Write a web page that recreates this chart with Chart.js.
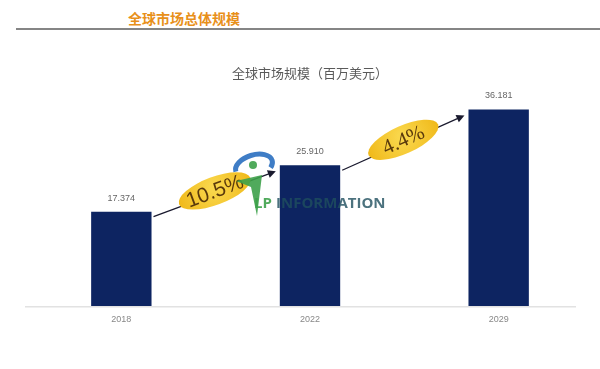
<!DOCTYPE html>
<html>
<head>
<meta charset="utf-8">
<script src="https://cdn.jsdelivr.net/npm/chart.js@4.4.0/dist/chart.umd.min.js"></script>
<style>
    html, body { margin: 0; padding: 0; background: #fff; }
    #wrap { position: relative; width: 600px; height: 369px; overflow: hidden; }
    #header {
        position: absolute; left: 0; top: 8px; width: 368px; text-align: center;
        font: bold 14px "Noto Sans CJK SC", sans-serif; color: #e8901a;
    }
    #rule { position: absolute; left: 16px; right: 0; top: 28px; height: 2px; background: #858585; }
    #chart { position: absolute; left: 0; top: 0; }
</style>
</head>
<body>
<div id="wrap">
    <div id="header">全球市场总体规模</div>
    <div id="rule"></div>
    <canvas id="chart" width="600" height="369"></canvas>
</div>
<script>
// DATA
const years = ['2018', '2022', '2029'];
const marketSize = [17374, 25910, 36181];
const growthRates = ['10.5%', '4.4%'];
const chartTitle = '全球市场规模（百万美元）';

function fmt(v)
{
    return String(v).replace(/\B(?=(\d{3})+(?!\d))/g, '.');
}

// labels, arrows, cagr bubbles, watermark
const extras = {
    id: 'extras',
    afterDatasetsDraw(chart)
    {
        let ctx = chart.ctx;
        let bars = chart.getDatasetMeta(0).data;
        let y0 = chart.scales.y.getPixelForValue(0);

        // baseline
        ctx.save();
        ctx.strokeStyle = '#e2e2e2';
        ctx.lineWidth = 1.5;
        ctx.beginPath();
        ctx.moveTo(25, y0 + 0.5);
        ctx.lineTo(576, y0 + 0.5);
        ctx.stroke();

        // value labels
        ctx.fillStyle = '#666';
        ctx.font = '9px "Liberation Sans", sans-serif';
        ctx.textAlign = 'center';
        ctx.textBaseline = 'bottom';
        bars.forEach(function (b, i)
        {
            ctx.fillText(fmt(marketSize[i]), b.x, b.y - 9);
        });

        // arrows + bubbles
        for (let i = 0; i < bars.length - 1; i++)
        {
            let a = bars[i], c = bars[i + 1];
            let x1 = a.x + a.width / 2 + 2, yA = a.y + 5;
            let x2 = c.x - c.width / 2 - 4, yB = c.y + 6;
            let ang = Math.atan2(yB - yA, x2 - x1);

            ctx.strokeStyle = '#1a1a2e';
            ctx.fillStyle = '#1a1a2e';
            ctx.lineWidth = 1.3;
            ctx.beginPath();
            ctx.moveTo(x1, yA);
            ctx.lineTo(x2 - 6 * Math.cos(ang), yB - 6 * Math.sin(ang));
            ctx.stroke();
            ctx.beginPath();
            ctx.moveTo(x2, yB);
            ctx.lineTo(x2 - 8 * Math.cos(ang) + 4 * Math.sin(ang), yB - 8 * Math.sin(ang) - 4 * Math.cos(ang));
            ctx.lineTo(x2 - 8 * Math.cos(ang) - 4 * Math.sin(ang), yB - 8 * Math.sin(ang) + 4 * Math.cos(ang));
            ctx.closePath();
            ctx.fill();

            let mx = (x1 + x2) / 2, my = (yA + yB) / 2 - 3;
            ctx.save();
            ctx.translate(mx, my);
            ctx.rotate(ang);
            let g = ctx.createRadialGradient(0, -4, 4, 0, 0, 38);
            g.addColorStop(0, '#f9d64a');
            g.addColorStop(1, '#f0b91a');
            ctx.fillStyle = g;
            ctx.beginPath();
            ctx.ellipse(0, 0, 38, 14, 0, 0, Math.PI * 2);
            ctx.fill();
            ctx.fillStyle = '#5a3a0c';
            ctx.textAlign = 'center';
            ctx.textBaseline = 'middle';
            ctx.font = i === 0 ? '21px "Liberation Sans", sans-serif' : '21px "Liberation Serif", serif';
            ctx.fillText(growthRates[i], 0, 1);
            ctx.restore();
        }

        // watermark logo
        ctx.globalAlpha = 0.9;
        ctx.strokeStyle = '#2a6fc0';
        ctx.lineWidth = 5;
        ctx.beginPath();
        ctx.ellipse(254, 166, 19, 11, -0.3, Math.PI * 1.0, Math.PI * 2.2);
        ctx.stroke();
        ctx.fillStyle = '#3da14a';
        ctx.beginPath();
        ctx.arc(253, 165, 4, 0, Math.PI * 2);
        ctx.fill();
        ctx.beginPath();
        ctx.moveTo(236, 181);
        ctx.lineTo(262, 175);
        ctx.lineTo(257, 216);
        ctx.lineTo(251, 187);
        ctx.closePath();
        ctx.fill();
        ctx.font = 'bold 15px "Open Sans", sans-serif';
        ctx.textAlign = 'left';
        ctx.textBaseline = 'middle';
        ctx.fillText('LP', 254, 204);
        ctx.fillStyle = '#1f4f5e';
        ctx.globalAlpha = 0.8;
        ctx.fillText('INFORMATION', 276, 204);
        ctx.restore();
    }
};

let ctx = document.getElementById('chart').getContext('2d');
new Chart(ctx,
{
    type: 'bar',
    data: {
        labels: years,
        datasets: [{
            data: marketSize,
            backgroundColor: '#0d2461',
            barPercentage: 0.8,
            categoryPercentage: 0.4
        }]
    },
    options: {
        responsive: false,
        animation: false,
        layout: { padding: { left: 27, right: 7, top: 65, bottom: 36 } },
        plugins: {
            legend: { display: false },
            tooltip: { enabled: false },
            title: {
                display: true,
                text: chartTitle,
                color: '#5a5a5a',
                font: { size: 13, weight: 'normal', family: '"Noto Sans CJK SC", sans-serif' },
                padding: { top: 0, bottom: 8 }
            }
        },
        scales: {
            x: {
                grid: { display: false, drawTicks: false },
                border: { display: false },
                ticks: { color: '#888', font: { size: 9, family: '"Liberation Sans", sans-serif' }, padding: 8 }
            },
            y: { display: false, min: 0, max: 40000 }
        }
    },
    plugins: [extras]
});
</script>
</body>
</html>
